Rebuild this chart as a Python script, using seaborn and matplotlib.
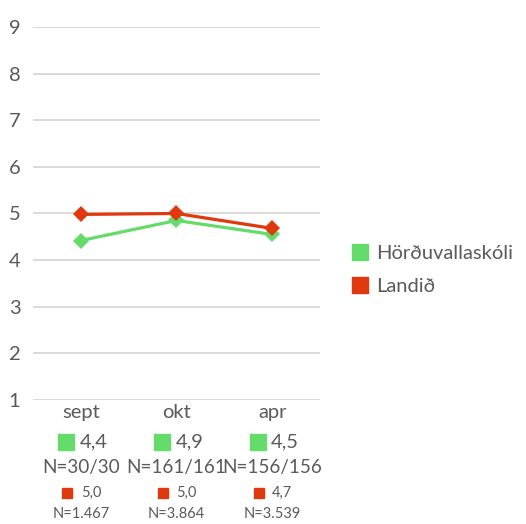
import matplotlib
matplotlib.use('Agg')
import matplotlib.pyplot as plt
import matplotlib.transforms as mtransforms
from matplotlib.lines import Line2D
import pandas as pd
import seaborn as sns

sns.set_style("white")
plt.rcParams['font.family'] = ['Lato', 'DejaVu Sans']

# data
months = ['sept', 'okt', 'apr']
school_name = 'Hörðuvallaskóli'
country_name = 'Landið'
school_vals = [4.42, 4.85, 4.55]
country_vals = [4.98, 5.00, 4.68]
school_labels = ['4,4', '4,9', '4,5']
school_n = ['N=30/30', 'N=161/161', 'N=156/156']
country_labels = ['5,0', '5,0', '4,7']
country_n = ['N=1.467', 'N=3.864', 'N=3.539']

green = '#65DB6A'
red = '#E0380F'
grey = '#5a5a5a'

df = pd.DataFrame({
    'month': months * 2,
    'value': school_vals + country_vals,
    'series': [school_name] * 3 + [country_name] * 3,
})

fig = plt.figure(figsize=(5.26, 5.24), dpi=100)
ax = fig.add_axes([0.0627, 0.2366, 0.5456, 0.712])

sns.lineplot(data=df, x='month', y='value', hue='series',
             palette={school_name: green, country_name: red},
             marker='D', markersize=8, markeredgewidth=0, linewidth=2.3,
             ax=ax, legend=False, sort=False)

ax.set_xlim(-0.5, 2.5)
ax.set_ylim(1, 9)
ax.set_yticks(range(1, 10))
ax.yaxis.grid(True, color='#d9d9d9', linewidth=1.4)
ax.set_axisbelow(True)
for s in ax.spines.values():
    s.set_visible(False)
ax.tick_params(axis='y', length=0, pad=9, labelsize=14.5, labelcolor=grey)
ax.tick_params(axis='x', length=0, pad=3, labelsize=14.5, labelcolor=grey)
ax.set_xlabel('')
ax.set_ylabel('')

# table under the axis
trans = mtransforms.blended_transform_factory(ax.transData, ax.transAxes)
for i in range(len(months)):
    ax.plot(i - 0.15, -0.113, marker='s', markersize=11, color=green,
            transform=trans, clip_on=False)
    ax.text(i - 0.01, -0.113, school_labels[i], transform=trans, ha='left',
            va='center', fontsize=14.5, color=grey)
    ax.text(i, -0.18, school_n[i], transform=trans, ha='center',
            va='center', fontsize=13.6, color=grey)
    ax.plot(i - 0.14, -0.249, marker='s', markersize=7, color=red,
            transform=trans, clip_on=False)
    ax.text(i, -0.249, country_labels[i], transform=trans, ha='left',
            va='center', fontsize=10.5, color=grey)
    ax.text(i, -0.306, country_n[i], transform=trans, ha='center',
            va='center', fontsize=10.5, color=grey)

handles = [Line2D([], [], marker='s', linestyle='', markersize=12, color=green),
           Line2D([], [], marker='s', linestyle='', markersize=12, color=red)]
fig.legend(handles, [school_name, country_name], loc='center left',
           bbox_to_anchor=(0.63, 0.485), frameon=False, fontsize=14.5,
           labelcolor=grey, handletextpad=0.3, labelspacing=0.8,
           handlelength=1.0)

fig.savefig('out.png', dpi=100)
plt.close(fig)
